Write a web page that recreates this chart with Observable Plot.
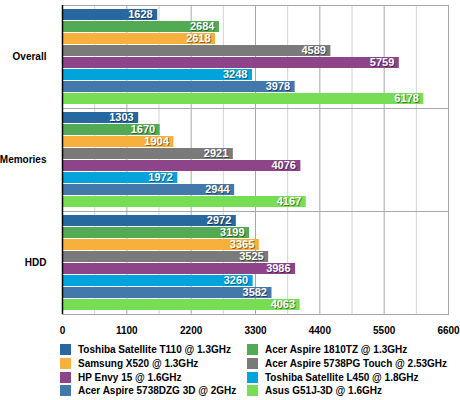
<!DOCTYPE html>
<html>
<head>
<meta charset="utf-8">
<script src="https://cdn.jsdelivr.net/npm/d3@7"></script>
<script src="https://cdn.jsdelivr.net/npm/@observablehq/plot@0.6"></script>
<style>
  body { margin: 0; background: #fff; font-family: "Liberation Sans", Arial, sans-serif; }
  #legend { display: grid; grid-template-columns: 187px auto; grid-auto-rows: 13.7px;
            padding-left: 60px; margin-top: 5px; font-weight: bold; font-size: 10px; color: #000; }
  .item { display: flex; align-items: center; white-space: nowrap; }
  .sw { width: 11px; height: 11px; margin-right: 7px; flex: none; }
</style>
</head>
<body>
<div id="chart"></div>
<div id="legend"></div>
<script>
const categories = ["Overall", "Memories", "HDD"];
const series = [
  "Toshiba Satellite T110 @ 1.3GHz",
  "Acer Aspire 1810TZ @ 1.3GHz",
  "Samsung X520 @ 1.3GHz",
  "Acer Aspire 5738PG Touch @ 2.53GHz",
  "HP Envy 15 @ 1.6GHz",
  "Toshiba Satellite L450 @ 1.8GHz",
  "Acer Aspire 5738DZG 3D @ 2GHz",
  "Asus G51J-3D @ 1.6GHz"
];
// values per series: [Overall, Memories, HDD]
const toshibaT110 = [1628, 1303, 2972];
const acer1810TZ  = [2684, 1670, 3199];
const samsungX520 = [2618, 1904, 3365];
const acer5738PG  = [4589, 2921, 3525];
const hpEnvy15    = [5759, 4076, 3986];
const toshibaL450 = [3248, 1972, 3260];
const acer5738DZG = [3978, 2944, 3582];
const asusG51J    = [6178, 4167, 4063];
const seriesValues = [toshibaT110, acer1810TZ, samsungX520, acer5738PG, hpEnvy15, toshibaL450, acer5738DZG, asusG51J];
const colors = ["#2868a0", "#52aa55", "#f8b03c", "#7a7a7a", "#8e4489", "#00a3db", "#4279aa", "#77dd55"];
const xTicks = [0, 1100, 2200, 3300, 4400, 5500, 6600];
const minorTicks = [550, 1650, 2750, 3850, 4950, 6050];

const data = [];
series.forEach((s, i) => categories.forEach((c, j) => data.push({series: s, category: c, value: seriesValues[i][j]})));

const labelFont = "Liberation Sans Narrow, Arial Narrow, Liberation Sans, sans-serif";

const chart = Plot.plot({
  width: 460,
  height: 338,
  marginLeft: 62,
  marginRight: 12,
  marginTop: 4,
  marginBottom: 23,
  style: {fontFamily: "Liberation Sans, Arial, sans-serif", fontWeight: "bold", fontSize: "10px", color: "#000", background: "#fff"},
  x: {domain: [0, 6600], ticks: xTicks, tickSize: 0, tickPadding: 12, tickFormat: d3.format("d"), label: null},
  y: {domain: series, paddingInner: 0.06, paddingOuter: 0.25, axis: null},
  fy: {domain: categories, padding: 0, label: null, axis: null},
  color: {domain: series, range: colors},
  marks: [
    Plot.ruleX(minorTicks, {stroke: "#d2d2d2", strokeWidth: 1}),
    Plot.ruleX(xTicks, {stroke: "#a8a8a8", strokeWidth: 1}),
    Plot.frame({stroke: "#a8a8a8"}),
    Plot.barX(data, {fy: "category", y: "series", x: "value", fill: "series"}),
    Plot.text(data, {fy: "category", y: "series", x: "value", text: d => String(d.value), textAnchor: "end", dx: -4, dy: 0, fill: "#000", fillOpacity: 0.45, fontSize: 11, fontWeight: "bold", fontFamily: labelFont}),
    Plot.text(data, {fy: "category", y: "series", x: "value", text: d => String(d.value), textAnchor: "end", dx: -5, dy: -1, fill: "#fff", fontSize: 11, fontWeight: "bold", fontFamily: labelFont}),
    Plot.ruleX([0], {stroke: "#000", strokeWidth: 1.5}),
    Plot.axisFy({anchor: "left", tickSize: 0, tickPadding: 16, label: null, fontSize: 10, fontWeight: "bold"})
  ]
});
document.getElementById("chart").appendChild(chart);

const legend = document.getElementById("legend");
series.forEach((s, i) => {
  const item = document.createElement("div");
  item.className = "item";
  const sw = document.createElement("span");
  sw.className = "sw";
  sw.style.background = colors[i];
  const t = document.createElement("span");
  t.textContent = s;
  item.appendChild(sw);
  item.appendChild(t);
  legend.appendChild(item);
});
</script>
</body>
</html>
